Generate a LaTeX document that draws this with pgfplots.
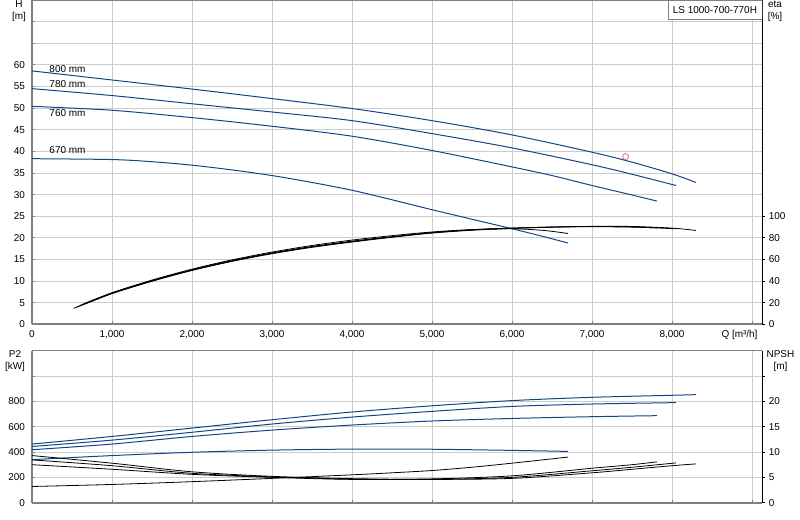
\documentclass[border=0pt]{standalone}
\usepackage{fontspec}
\setmainfont{Liberation Sans}
\usepackage{pgfplots}
\pgfplotsset{compat=1.18}

\definecolor{curveblue}{RGB}{16,70,135}
\definecolor{gridgray}{RGB}{204,204,204}
\definecolor{axisgray}{RGB}{128,128,128}
\definecolor{opred}{RGB}{230,90,90}

\pgfplotsset{
  pump/.style={
    scale only axis,
    width=730.3bp,
    xmin=0, xmax=9129,
    font=\fontsize{10}{12}\selectfont,
    tick label style={font=\fontsize{10}{12}\selectfont, text=black},
    /pgf/number format/assume math mode=true,
    major tick length=3bp,
    every axis plot/.append style={line width=0.9bp, line join=round},
  },
  leftside/.style={
    pump,
    axis x line*=bottom, axis y line*=left,
    axis line style={-, axisgray, line width=1.6bp},
    grid=major,
    major grid style={gridgray, line width=0.8bp},
    tick align=inside,
    tick style={axisgray, line width=0.8bp},
    xtick={0,1000,...,9000},
    yticklabel style={xshift=-3.5bp},
  },
  rightside/.style={
    pump,
    axis x line*=top, axis y line*=right,
    x axis line style={-, axisgray, line width=0.8bp},
    y axis line style={-, black, line width=0.8bp},
    xtick=\empty,
    tick align=outside,
    tick style={black, line width=0.8bp},
  },
  hcurve/.style={curveblue, smooth, tension=0.5, line width=1bp},
  ecurve/.style={black, smooth, tension=0.5, line width=0.8bp},
}

\begin{document}
\begin{tikzpicture}
\useasboundingbox (0,0) rectangle (800bp,520bp);

% ---------------- top: head H and efficiency ----------------
\begin{axis}[
  leftside,
  at={(32bp,195.7bp)}, anchor=south west,
  height=324.3bp,
  ymin=0, ymax=75,
  ytick={0,5,...,70},
  yticklabels={0,5,10,15,20,25,30,35,40,45,50,55,60,{},{}},
  xticklabels={0,{1,000},{2,000},{3,000},{4,000},{5,000},{6,000},{7,000},{8,000},{}},
  xticklabel style={yshift=-2.5bp},
  ylabel={H\\{}[m]},
  ylabel style={rotate=-90, align=center, at={(rel axis cs:-0.0178,0.966)}, anchor=center},
  xlabel={Q [m³/h]},
  xlabel style={at={(rel axis cs:0.9688,-0.033)}, anchor=center},
]
% H curves per impeller diameter
\addplot[hcurve] coordinates {
  (0,58.6) (1000,56.5) (2000,54.4) (3000,52.2) (4000,49.9) (5000,47.1)
  (6000,43.8) (7000,39.8) (7500,37.5) (8000,34.8) (8300,32.8)
};
\addplot[hcurve] coordinates {
  (0,54.5) (1000,52.9) (2000,51.0) (3000,49.1) (4000,47.1) (5000,44.1)
  (6000,40.8) (7000,36.9) (7500,34.7) (8050,32.1)
};
\addplot[hcurve] coordinates {
  (0,50.4) (1000,49.5) (2000,47.8) (3000,45.8) (4000,43.5) (5000,40.2)
  (6000,36.4) (6500,34.4) (7000,32.1) (7500,29.9) (7810,28.5)
};
\addplot[hcurve] coordinates {
  (0,38.3) (1000,38.1) (1500,37.6) (2000,36.8) (2500,35.7) (3000,34.4)
  (3500,32.8) (4000,31.0) (4500,28.8) (5000,26.5) (5500,24.3) (6000,22.1)
  (6350,20.5) (6700,18.8)
};
% duty point
\addplot[only marks, mark=o, opred, mark size=3bp, mark options={line width=0.7bp}]
  coordinates {(7420,38.8)};

\node[anchor=west, inner sep=0pt] at (axis cs:216,59.1) {800 mm};
\node[anchor=west, inner sep=0pt] at (axis cs:216,55.6) {780 mm};
\node[anchor=west, inner sep=0pt] at (axis cs:216,48.8) {760 mm};
\node[anchor=west, inner sep=0pt] at (axis cs:216,40.2) {670 mm};
\end{axis}

\begin{axis}[
  rightside,
  at={(32bp,195.7bp)}, anchor=south west,
  height=324.3bp,
  ymin=0, ymax=300,
  ytick={0,20,...,100},
  ylabel={eta\\{}[\%]},
  ylabel style={rotate=-90, align=center, at={(rel axis cs:1.0174,0.966)}, anchor=center},
]
\addplot[ecurve] coordinates {
  (520,14.8) (700,19.8) (1000,28.4) (1500,39.8) (2000,49.8) (2500,58.2)
  (3000,65.3) (3500,71.2) (4000,76.1) (4500,80.5) (5000,84.4) (5500,87.0)
  (6000,88.7) (6500,89.9) (7000,90.6) (7500,90.5) (8000,89.0) (8300,86.8)
};
\addplot[ecurve] coordinates {
  (560,16.0) (1000,28.6) (1500,40.1) (2000,50.1) (2500,58.6) (3000,65.7)
  (3500,71.6) (4000,76.5) (4500,80.8) (5000,84.7) (5500,87.3) (6000,88.9)
  (6500,90.0) (7000,90.5) (7500,90.1) (8050,88.3)
};
\addplot[ecurve] coordinates {
  (600,17.4) (1000,28.9) (1500,40.4) (2000,50.4) (2500,58.9) (3000,66.0)
  (3500,72.0) (4000,76.9) (4500,81.1) (5000,84.9) (5500,87.5) (6000,89.0)
  (6500,89.9) (7000,90.3) (7500,89.9) (7810,89.2)
};
\addplot[ecurve] coordinates {
  (640,18.7) (1000,29.2) (1500,40.9) (2000,51.0) (2500,59.6) (3000,66.8)
  (3500,72.9) (4000,77.9) (4500,82.0) (5000,85.4) (5500,87.6) (6000,88.4)
  (6400,86.8) (6700,84.0)
};
\node[draw=axisgray, fill=white, line width=0.8bp, anchor=north east,
      minimum height=19bp, minimum width=94bp, inner sep=0pt]
  at (rel axis cs:1,1) {LS 1000-700-770H};
\end{axis}

% ---------------- bottom: shaft power P2 and NPSH ----------------
\begin{axis}[
  leftside,
  at={(32bp,17.3bp)}, anchor=south west,
  height=152bp,
  ymin=0, ymax=1200,
  ytick={0,200,...,1000},
  yticklabels={0,200,400,600,800,{}},
  xticklabels={},
  ylabel={P2\\{}[kW]},
  ylabel style={rotate=-90, align=center, at={(rel axis cs:-0.0233,0.931)}, anchor=center},
]
\addplot[hcurve] coordinates {
  (0,463) (1000,523) (2000,589) (3000,655) (4000,716) (5000,765)
  (6000,806) (7000,832) (8000,848) (8300,853)
};
\addplot[hcurve] coordinates {
  (0,444) (1000,494) (2000,556) (3000,621) (4000,676) (5000,721)
  (6000,760) (7000,779) (8050,790)
};
\addplot[hcurve] coordinates {
  (0,418) (1000,463) (2000,523) (3000,573) (4000,613) (5000,645)
  (6000,665) (7000,679) (7810,687)
};
\addplot[hcurve] coordinates {
  (0,340) (1000,372) (2000,398) (3000,415) (4000,423) (5000,422)
  (6000,413) (6700,405)
};
\end{axis}

\begin{axis}[
  rightside,
  at={(32bp,17.3bp)}, anchor=south west,
  height=152bp,
  ymin=0, ymax=30,
  ytick={0,5,...,25},
  yticklabels={0,5,10,15,20,{}},
  ylabel={NPSH\\{}[m]},
  ylabel style={rotate=-90, align=center, at={(rel axis cs:1.0249,0.931)}, anchor=center},
]
\addplot[ecurve] coordinates {
  (0,9.3) (1000,7.8) (2000,6.1) (3000,5.2) (4000,4.75) (5000,4.6)
  (6000,4.8) (7000,5.9) (7500,6.6) (8000,7.3) (8300,7.66)
};
\addplot[ecurve] coordinates {
  (0,8.45) (1000,7.3) (2000,5.8) (3000,5.1) (4000,4.65) (5000,4.6)
  (6000,5.0) (7000,6.3) (7500,7.0) (8050,7.86)
};
\addplot[ecurve] coordinates {
  (0,7.5) (1000,6.6) (2000,5.6) (3000,5.0) (4000,4.6) (5000,4.7)
  (6000,5.3) (7000,6.8) (7500,7.5) (7810,8.06)
};
\addplot[ecurve] coordinates {
  (0,3.2) (1000,3.6) (2000,4.15) (3000,4.8) (4000,5.5) (4500,5.9)
  (5000,6.35) (5500,7.0) (6000,7.8) (6700,9.0)
};
\end{axis}
\end{tikzpicture}
\end{document}
